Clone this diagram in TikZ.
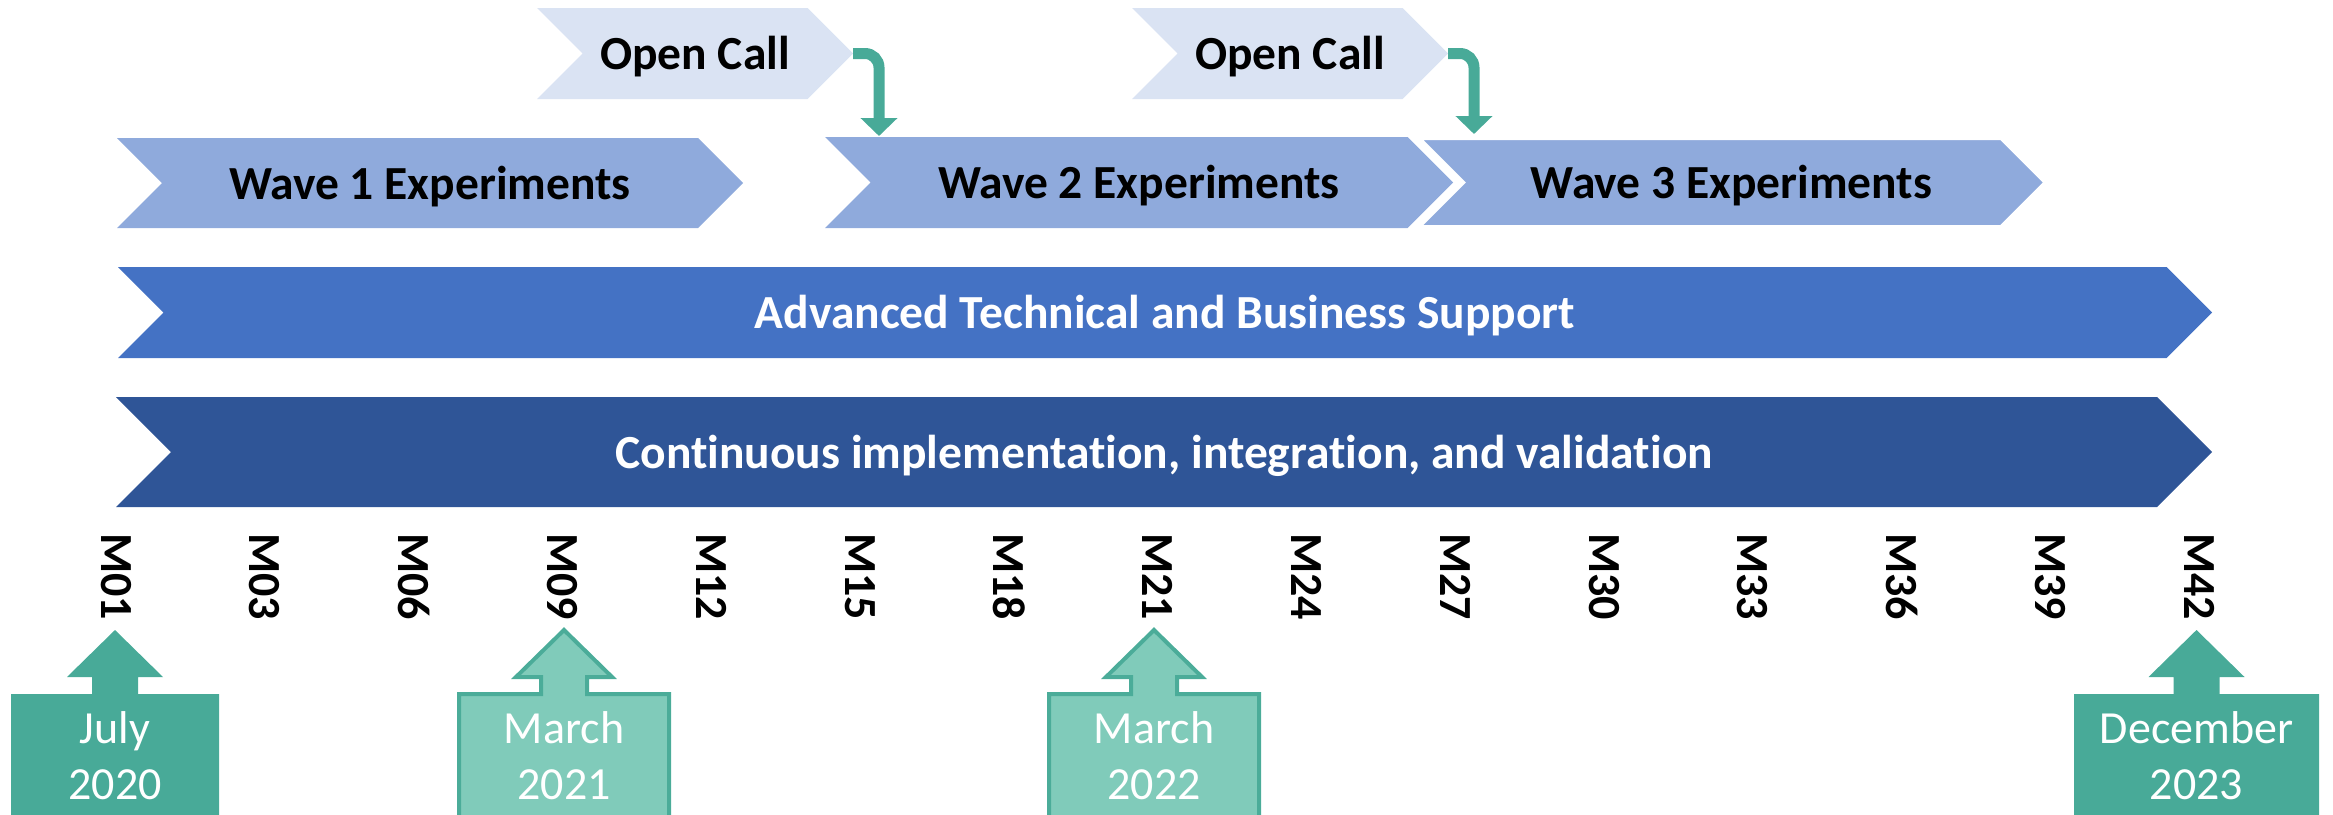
\documentclass[tikz,border=0pt]{standalone}
\usepackage{fontspec}
\setmainfont{Carlito}[Ligatures=NoCommon]
\usetikzlibrary{arrows.meta}
\definecolor{ocfill}{HTML}{DAE3F3}
\definecolor{wavefill}{HTML}{8FAADC}
\definecolor{atbsfill}{HTML}{4472C4}
\definecolor{ciivfill}{HTML}{2F5597}
\definecolor{tealdark}{HTML}{48AA98}
\definecolor{teallight}{HTML}{80CBBA}
\definecolor{tealline}{HTML}{4BAC99}

\newcommand{\mychev}[8]{%
  \pgfmathsetmacro{\chd}{(#6-#5)/2}%
  \pgfmathsetmacro{\chm}{(#6+#5)/2}%
  \path[#1] (#3,#5) -- ({#4-\chd},#5) -- (#4,\chm) -- ({#4-\chd},#6) -- (#3,#6) -- ({#3+\chd},\chm) -- cycle;
  \coordinate (#2-tip) at (#4,\chm);
  \node[#7] (#2) at ({(#3+#4)/2},{\chm+16}) {#8};
}
\newcommand{\mycallout}[5]{%
  \path[#1] ({#3-#4},830) -- ({#3-#4},694) -- ({#3-23},694) -- ({#3-23},677) -- ({#3-48},677) -- (#3,630) -- ({#3+48},677) -- ({#3+23},677) -- ({#3+23},694) -- ({#3+#4},694) -- ({#3+#4},830) -- cycle;
  \node[calltext] (#2) at (#3,799) {#5};
}

\begin{document}
\begin{tikzpicture}[x=1pt,y=-1pt,
  oc/.style={fill=ocfill},
  wave/.style={fill=wavefill},
  atbs/.style={fill=atbsfill},
  ciiv/.style={fill=ciivfill},
  blacklbl/.style={font=\fontsize{47.5}{56}\selectfont\bfseries, text=black, inner sep=0pt, anchor=base},
  whitelbl/.style={font=\fontsize{47.5}{56}\selectfont\bfseries, text=white, inner sep=0pt, anchor=base},
  mlabel/.style={font=\fontsize{46}{56}\selectfont\bfseries, text=black, inner sep=0pt, rotate=-90, anchor=west},
  calldark/.style={fill=tealdark},
  calllight/.style={fill=teallight, draw=tealline, line width=4pt},
  calltext/.style={font=\fontsize{46}{56}\selectfont, text=white, inner sep=0pt, align=center, anchor=base},
  conn/.style={draw=tealdark, line width=11pt, rounded corners=14pt, -{Triangle[width=36pt,length=18pt]}}
]
\useasboundingbox (0,0) rectangle (2333,814);
\clip (0,0) rectangle (2333,814);

% Open calls
\mychev{oc}{oc1}{537}{853}{8}{99}{blacklbl}{Open Call}
\mychev{oc}{oc2}{1132}{1448}{8}{99}{blacklbl}{Open Call}

% Waves
\mychev{wave}{w1}{117}{743}{138}{228}{blacklbl}{Wave 1 Experiments}
\mychev{wave}{w2}{825}{1453}{137}{228}{blacklbl}{Wave 2 Experiments}
\mychev{wave,draw=white,line width=6pt}{w3}{1416}{2047}{137}{228}{blacklbl}{Wave 3 Experiments}

% Long bars
\mychev{atbs}{atbs}{118}{2212}{267}{358}{whitelbl}{Advanced Technical and Business Support}
\mychev{ciiv}{ciiv}{116}{2212}{397}{507}{whitelbl}{Continuous implementation, integration, and validation}

% Connectors from open calls to waves
\coordinate (call1end) at (879,136);
\coordinate (call2end) at (1474,134);
\draw[conn] (oc1-tip) -| (call1end);
\draw[conn] (oc2-tip) -| (call2end);

% Month labels
\foreach \i/\lab in {0/M01,1/M03,2/M06,3/M09,4/M12,5/M15,6/M18,7/M21,8/M24,9/M27,10/M30,11/M33,12/M36,13/M39,14/M42}
  \node[mlabel] (\lab) at ({116+148.8*\i},533) {\lab};

% Date callouts
\mycallout{calldark}{d2020}{115}{104}{July\\2020}
\mycallout{calllight}{d2021}{564}{105}{March\\2021}
\mycallout{calllight}{d2022}{1154}{105}{March\\2022}
\mycallout{calldark}{d2023}{2196.5}{122.5}{December\\2023}
\end{tikzpicture}
\end{document}
